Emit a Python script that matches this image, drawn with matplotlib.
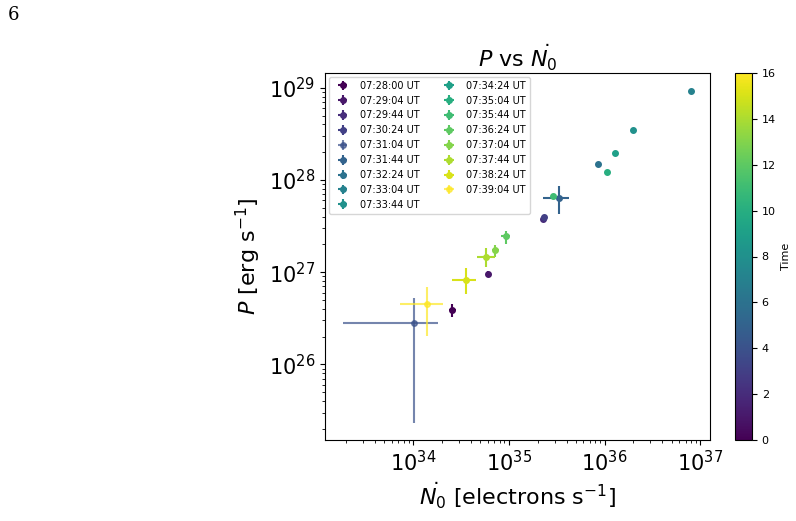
import matplotlib.pyplot as plt
import numpy as np
import matplotlib as mpl

times = ['07:28:00', '07:29:04', '07:29:44', '07:30:24', '07:31:04', '07:31:44',
         '07:32:24', '07:33:04', '07:33:44', '07:34:24', '07:35:04', '07:35:44',
         '07:36:24', '07:37:04', '07:37:44', '07:38:24', '07:39:04']
# log10 values
logN = np.array([34.41, 34.78, 35.36, 35.37, 34.01, 35.52, 35.93, 36.90, 36.30,
                 36.11, 36.02, 35.46, 34.97, 34.86, 34.76, 34.55, 34.14])
logP = np.array([26.59, 26.98, 27.58, 27.60, 26.45, 27.80, 28.17, 28.96, 28.54,
                 28.29, 28.09, 27.83, 27.39, 27.24, 27.17, 26.92, 26.66])
# error extents in dex (lower, upper)
dN_lo = np.array([0.04, 0.02, 0.01, 0.01, 0.74, 0.16, 0.01, 0.01, 0.01,
                  0.01, 0.01, 0.01, 0.05, 0.04, 0.09, 0.14, 0.28])
dN_hi = np.array([0.04, 0.02, 0.01, 0.01, 0.25, 0.11, 0.01, 0.01, 0.01,
                  0.01, 0.01, 0.01, 0.04, 0.04, 0.09, 0.11, 0.17])
dP_lo = np.array([0.08, 0.03, 0.01, 0.01, 1.09, 0.17, 0.01, 0.01, 0.01,
                  0.01, 0.01, 0.01, 0.08, 0.08, 0.11, 0.16, 0.35])
dP_hi = np.array([0.06, 0.03, 0.01, 0.01, 0.27, 0.13, 0.01, 0.01, 0.01,
                  0.01, 0.01, 0.01, 0.06, 0.06, 0.09, 0.12, 0.18])

fig = plt.figure(figsize=(7.96, 5.21), dpi=100)
ax = fig.add_axes([325/796, 1-440/521, 385/796, 367/521])
cax = fig.add_axes([735/796, 1-440/521, 17/796, 367/521])
cmap = mpl.colormaps['viridis']
norm = mpl.colors.Normalize(0, 16)
for i, t in enumerate(times):
    x, y = 10**logN[i], 10**logP[i]
    xe = [[x - 10**(logN[i]-dN_lo[i])], [10**(logN[i]+dN_hi[i]) - x]]
    ye = [[y - 10**(logP[i]-dP_lo[i])], [10**(logP[i]+dP_hi[i]) - y]]
    ax.errorbar(x, y, xerr=xe, yerr=ye, fmt='o', ms=4, color=cmap(norm(i)),
                alpha=0.7 if i in (4, 16) else 1, label=t + ' UT')
ax.set_xscale('log')
ax.set_yscale('log')
ax.set_xlim(10**33.08, 10**37.1)
ax.set_ylim(10**25.18, 10**29.16)
ax.tick_params(labelsize=15)
ax.set_xlabel(r'$\dot{N_0}$ [electrons s$^{-1}$]', fontsize=16)
ax.set_ylabel(r'$P$ [erg s$^{-1}$]', fontsize=16)
ax.set_title(r'$P$ vs $\dot{N_0}$', fontsize=16, pad=2)
ax.legend(loc='upper left', ncol=2, fontsize=7, borderaxespad=0.4)
cb = fig.colorbar(mpl.cm.ScalarMappable(norm=norm, cmap=cmap), cax=cax)
cb.set_label('Time', fontsize=8)
cb.ax.tick_params(labelsize=8)
fig.text(8/796, 1-15/521, '6', fontsize=13, family='serif', va='center')
fig.savefig('out.png')
